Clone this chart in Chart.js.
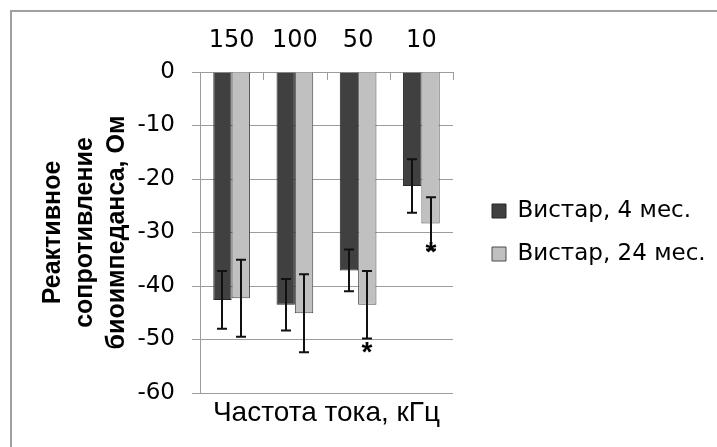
<!DOCTYPE html>
<html>
<head>
<meta charset="utf-8">
<script src="https://cdn.jsdelivr.net/npm/chart.js@4/dist/chart.umd.min.js"></script>
<style>
  html, body { margin: 0; padding: 0; background: #fff; }
  #wrap { width: 717px; height: 447px; }
</style>
</head>
<body>
<div id="wrap"><canvas id="chart" width="717" height="447"></canvas></div>
<script>
// Частоты тока, кГц
const categories = ['150', '100', '50', '10'];
const seriesNames = ['Вистар, 4 мес.', 'Вистар, 24 мес.'];

// Реактивное сопротивление, Ом (среднее и ошибка)
const young = [-42.6, -43.5, -37.1, -21.3];
const youngErr = [5.4, 4.8, 3.9, 5.0];
const old = [-42.3, -45.1, -43.5, -28.3];
const oldErr = [7.2, 7.3, 6.3, 4.9];

// звездочки (достоверные отличия) у второй серии
const oldStars = [null, null, -51.0, -32.3];

const yTicks = [0, -10, -20, -30, -40, -50, -60];

Chart.defaults.font.family = "'DejaVu Sans', sans-serif";
Chart.defaults.color = '#000';

const gridGray = '#9c9c9c';

// рамка вокруг диаграммы
const frame = {
    id: 'frame',
    beforeDraw(chart) {
        const ctx = chart.ctx;
        ctx.save();
        ctx.fillStyle = '#fff';
        ctx.fillRect(0, 0, chart.width, chart.height);
        ctx.strokeStyle = '#a0a0a0';
        ctx.lineWidth = 2;
        ctx.strokeRect(11, 11, 800, 600);
        ctx.restore();
    }
};

// короткие риски внутрь от оси категорий
const innerTicks = {
    id: 'innerTicks',
    afterDatasetsDraw(chart) {
        const x = chart.scales.x, y = chart.scales.y;
        const half = (x.getPixelForValue(1) - x.getPixelForValue(0)) / 2;
        const y0 = y.getPixelForValue(0);
        const ctx = chart.ctx;
        ctx.save();
        ctx.strokeStyle = gridGray;
        ctx.lineWidth = 1;
        for (let i = 0; i < categories.length; i++) {
            const px = Math.round(x.getPixelForValue(i) + half) + 0.5;
            ctx.beginPath();
            ctx.moveTo(px, y0);
            ctx.lineTo(px, y0 + 8);
            ctx.stroke();
        }
        ctx.restore();
    }
};

// планки погрешностей и звездочки
const errorBars = {
    id: 'errorBars',
    afterDatasetsDraw(chart) {
        const ctx = chart.ctx;
        const y = chart.scales.y;
        ctx.save();
        ctx.strokeStyle = '#111';
        ctx.lineWidth = 2;
        chart.data.datasets.forEach((ds, di) => {
            const meta = chart.getDatasetMeta(di);
            meta.data.forEach((bar, i) => {
                const v = ds.data[i], e = ds.errors[i];
                const top = y.getPixelForValue(v + e);
                const bot = y.getPixelForValue(v - e);
                const cx = Math.round(bar.x);
                ctx.beginPath();
                ctx.moveTo(cx, top);
                ctx.lineTo(cx, bot);
                ctx.moveTo(cx - 5, top);
                ctx.lineTo(cx + 5, top);
                ctx.moveTo(cx - 5, bot);
                ctx.lineTo(cx + 5, bot);
                ctx.stroke();
                if (ds.stars && ds.stars[i] != null) {
                    ctx.fillStyle = '#000';
                    ctx.font = "bold 28px 'Liberation Sans', Arial, sans-serif";
                    ctx.textAlign = 'center';
                    ctx.textBaseline = 'alphabetic';
                    ctx.fillText('*', cx, y.getPixelForValue(ds.stars[i]) + 16);
                }
            });
        });
        ctx.restore();
    }
};

new Chart(document.getElementById('chart'), {
    type: 'bar',
    data: {
        labels: categories,
        datasets: [{
            label: seriesNames[0],
            data: young,
            errors: youngErr,
            backgroundColor: '#404040',
            borderColor: '#262626',
            borderWidth: 1,
            categoryPercentage: 0.58,
            barPercentage: 1.0
        }, {
            label: seriesNames[1],
            data: old,
            errors: oldErr,
            stars: oldStars,
            backgroundColor: '#c0c0c0',
            borderColor: '#4a4a4a',
            borderWidth: 1,
            categoryPercentage: 0.58,
            barPercentage: 1.0
        }]
    },
    options: {
        responsive: false,
        animation: false,
        layout: { padding: { left: 0, top: 0, right: 9, bottom: 14 } },
        scales: {
            x: {
                position: 'top',
                grid: { display: false, drawTicks: false },
                border: { display: false },
                ticks: { font: { size: 24, lineHeight: 1.2 }, padding: 17 },
                afterFit(s) { s.height = 72; }
            },
            x2: {
                type: 'category',
                position: 'bottom',
                grid: { display: false, drawTicks: false },
                border: { display: false },
                ticks: { display: false },
                title: {
                    display: true,
                    text: 'Частота тока, кГц',
                    font: { family: "'Liberation Sans', Arial, sans-serif", size: 28, lineHeight: 1.2 },
                    padding: { top: 0, bottom: 3 }
                },
                afterFit(s) { s.height = 40; }
            },
            y: {
                min: -60,
                max: 0,
                afterBuildTicks(s) { s.ticks = yTicks.map(v => ({ value: v })); },
                grid: { color: gridGray, tickLength: 8, lineWidth: 1 },
                border: { color: gridGray, width: 1 },
                ticks: { font: { size: 23 }, padding: 17 },
                title: {
                    display: true,
                    text: ['Реактивное', 'сопротивление', 'биоимпеданса, Ом'],
                    font: { family: "'Liberation Sans', Arial, sans-serif", size: 25, weight: 'bold', lineHeight: '32px' },
                    padding: { top: 37, bottom: 0 }
                },
                afterFit(s) { s.width = 200; }
            },
            y2: {
                type: 'linear',
                position: 'right',
                grid: { display: false, drawTicks: false },
                border: { display: false },
                ticks: { display: false },
                afterFit(s) { s.width = 19; }
            }
        },
        plugins: {
            legend: {
                position: 'right',
                fullSize: false,
                maxWidth: 236,
                labels: {
                    boxWidth: 14,
                    boxHeight: 14,
                    padding: 20,
                    font: { size: 23 },
                    color: '#000'
                }
            },
            tooltip: { enabled: false }
        }
    },
    plugins: [frame, innerTicks, errorBars]
});
</script>
</body>
</html>
